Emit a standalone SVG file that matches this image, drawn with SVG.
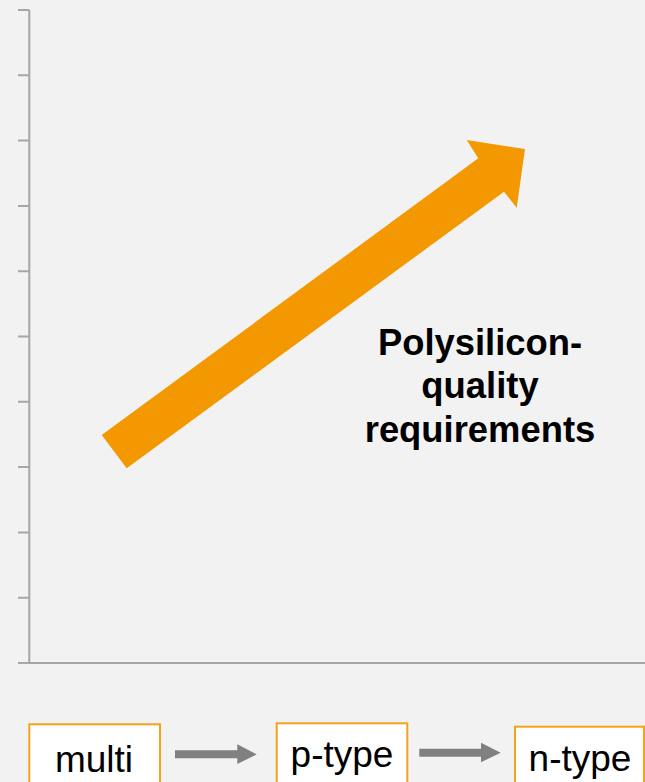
<svg xmlns="http://www.w3.org/2000/svg" width="645" height="782" viewBox="0 0 645 782">
<style>
.axis{stroke:#A6A6A6;stroke-width:2;fill:none}
.box{fill:#FFFFFF;stroke:#F5A21B;stroke-width:2}
.lbl{font-family:"Liberation Sans",Arial,sans-serif;font-size:37px;fill:#000;text-anchor:middle}
.title{font-family:"Liberation Sans",Arial,sans-serif;font-size:36.4px;font-weight:bold;fill:#000;text-anchor:middle}
.flow{fill:#808080}
</style>
<rect x="0" y="0" width="645" height="782" fill="#F2F2F2"/>
<g id="axes">
<path class="axis" d="M29.3 10 V663 H645"/>
<path class="axis" d="M18 10 H29.3 M18 75.3 H29.3 M18 140.6 H29.3 M18 205.9 H29.3 M18 271.2 H29.3 M18 336.5 H29.3 M18 401.8 H29.3 M18 467.1 H29.3 M18 532.4 H29.3 M18 597.7 H29.3 M18 663 H29.3"/>
</g>
<g id="trend-arrow">
<polygon fill="#F39800" points="101.7,435 478.3,158.3 466.7,140 525,149 516.7,207.7 504,191.7 126.7,468.3"/>
</g>
<g id="title">
<text class="title" x="480" y="355">Polysilicon-</text>
<text class="title" x="480" y="398.3">quality</text>
<text class="title" x="480" y="441.7">requirements</text>
</g>
<g id="node-multi">
<rect class="box" x="29.3" y="724.3" width="130.7" height="70"/>
<text class="lbl" x="94" y="772">multi</text>
</g>
<g id="node-ptype">
<rect class="box" x="276.7" y="723.3" width="130.6" height="70"/>
<text class="lbl" x="342" y="766.5">p-type</text>
</g>
<g id="node-ntype">
<rect class="box" x="515" y="726.7" width="129" height="70"/>
<text class="lbl" x="580" y="770.5">n-type</text>
</g>
<g id="connectors">
<polygon class="flow" points="175,750.3 237.3,750.3 237.3,744.3 256.7,754.3 237.3,764 237.3,758.3 175,758.3"/>
<polygon class="flow" points="419.3,748.7 481,748.7 481,742.7 500.7,752.7 481,762.3 481,756.7 419.3,756.7"/>
</g>
</svg>
